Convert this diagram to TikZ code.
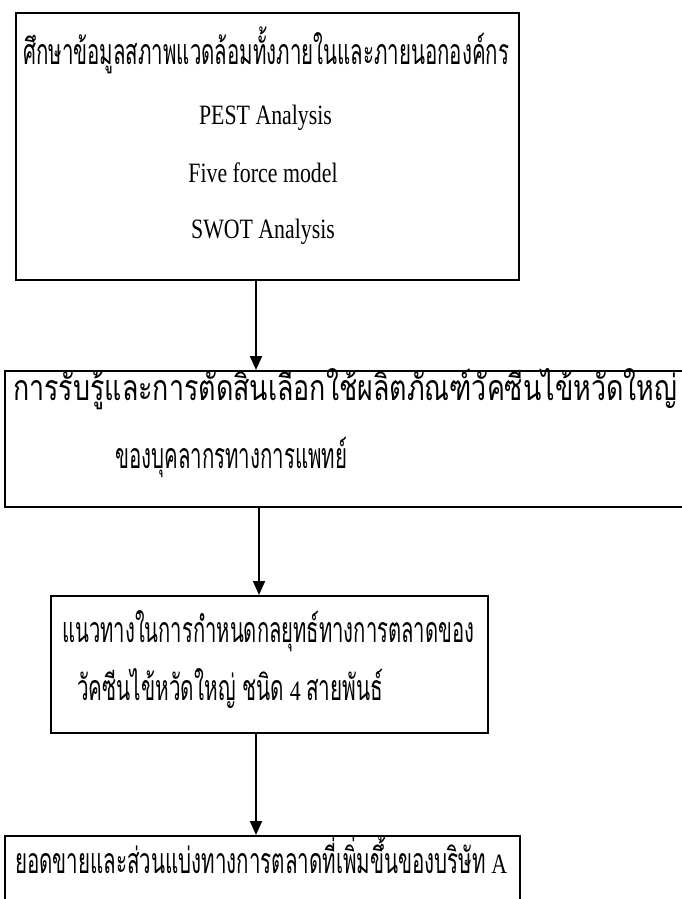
\documentclass[tikz,border=0pt]{standalone}
\usepackage{fontspec}
\usepackage{graphicx}
\setmainfont{Liberation Serif}[FakeStretch=0.78]
\newfontfamily\thaifam[Script=Thai]{Loma}
\usetikzlibrary{arrows.meta}
\newlength\hK
\settoheight\hK{\thaifam\fontsize{10}{12}\selectfont ก}
\pgfmathsetmacro\thaisz{10*20/\hK}
\newcommand\thai{\thaifam\fontsize{\thaisz}{\thaisz}\selectfont}
\newcommand\lat{\rmfamily\fontsize{28}{32}\selectfont}
\newlength\wA \newlength\wB \newlength\wL
\newcommand\mixline[4]{%
  \settowidth\wA{\thai #2}\settowidth\wB{\thai #4}\settowidth\wL{\lat #3}%
  \pgfmathsetmacro\fac{(#1-\wL)/(\wA+\wB)}%
  \scalebox{\fac}[1]{\thai #2}{\lat #3}\scalebox{\fac}[1]{\thai #4}}
\tikzset{
  box/.style={draw, line width=2pt, inner sep=0pt},
  txt/.style={inner sep=0pt, anchor=base west},
  ltxt/.style={inner sep=0pt, anchor=base, font=\lat},
  arr/.style={line width=2pt, -{Triangle[width=12pt,length=14pt]}}
}
\begin{document}
\begin{tikzpicture}[x=1pt,y=-1pt]
\useasboundingbox (0,0) rectangle (681,899);
% boxes
\node[box, minimum width=503pt, minimum height=267pt] (b1) at (267.5,146.5) {};
\node[box, minimum width=700pt, minimum height=136pt] (b2) at (355,439) {};
\node[box, minimum width=437pt, minimum height=137pt] (b3) at (269.5,664.5) {};
\node[box, minimum width=515pt, minimum height=90pt] (b4) at (262.5,881) {};
% texts
\node[txt] (t1) at (23,65) {\mixline{486}{ศึกษาข้อมูลสภาพแวดล้อมทั้งภายในและภายนอกองค์กร}{}{}};
\node[ltxt] (t2) at (265.5,124) {PEST Analysis};
\node[ltxt] (t3) at (263,182) {Five force model};
\node[ltxt] (t4) at (263,238) {SWOT Analysis};
\node[txt] (t5) at (13,400) {\mixline{664}{การรับรู้และการตัดสินเลือกใช้ผลิตภัณฑ์วัคซีนไข้หวัดใหญ่}{}{}};
\node[txt] (t6) at (115,468) {\mixline{232}{ของบุคลากรทางการแพทย์}{}{}};
\node[txt] (t7) at (62,642) {\mixline{412}{แนวทางในการกำหนดกลยุทธ์ทางการตลาดของ}{}{}};
\node[txt] (t8) at (77,700) {\mixline{306}{วัคซีนไข้หวัดใหญ่ ชนิด}{\ 4\ }{สายพันธ์}};
\node[txt] (t9) at (15,873) {\mixline{492}{ยอดขายและส่วนแบ่งทางการตลาดที่เพิ่มขึ้นของบริษัท}{\ A}{}};
% arrow columns
\coordinate (c1) at (256,0);
\coordinate (c2) at (259,0);
\coordinate (c3) at (256,0);
\draw[arr] (b1.south -| c1) -- (b2.north -| c1);
\draw[arr] (b2.south -| c2) -- (b3.north -| c2);
\draw[arr] (b3.south -| c3) -- (b4.north -| c3);
\end{tikzpicture}
\end{document}
